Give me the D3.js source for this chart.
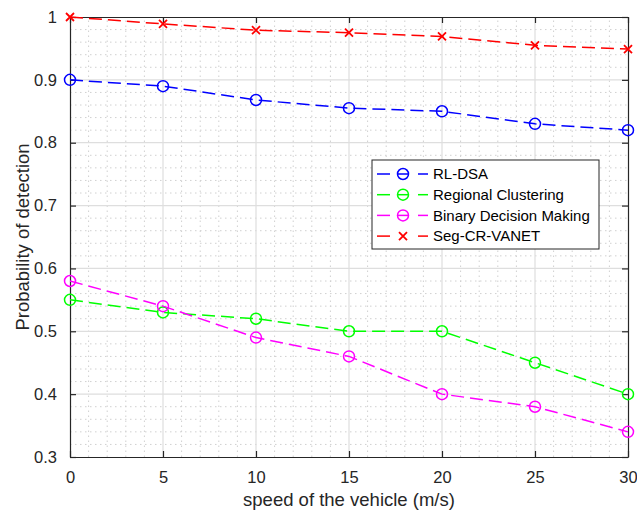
<!DOCTYPE html>
<html>
<head>
<meta charset="utf-8">
<script src="https://cdn.jsdelivr.net/npm/d3@7"></script>
<style>
  body { margin: 0; background: #fff; }
  svg { display: block; font-family: "Liberation Sans", Arial, sans-serif; }
</style>
</head>
<body>
<div id="chart"></div>
<script>
// data
const speeds = [0, 5, 10, 15, 20, 25, 30];
const rlDsa = [0.90, 0.89, 0.868, 0.855, 0.85, 0.83, 0.82];
const regionalClustering = [0.55, 0.53, 0.52, 0.50, 0.50, 0.45, 0.40];
const binaryDecision = [0.58, 0.54, 0.49, 0.46, 0.40, 0.38, 0.34];
const segCrVanet = [1.0, 0.989, 0.979, 0.975, 0.969, 0.955, 0.949];
const xTicks = [0, 5, 10, 15, 20, 25, 30];
const yTicks = [0.3, 0.4, 0.5, 0.6, 0.7, 0.8, 0.9, 1];

const series = [
  { name: "RL-DSA", values: rlDsa, color: "#0000ff", marker: "circle" },
  { name: "Regional Clustering", values: regionalClustering, color: "#00ff00", marker: "circle" },
  { name: "Binary Decision Making", values: binaryDecision, color: "#ff00ff", marker: "circle" },
  { name: "Seg-CR-VANET", values: segCrVanet, color: "#ff0000", marker: "cross" }
];

const width = 637, height = 514;
const margin = { top: 17, right: 9, bottom: 57, left: 70 };
const axisColor = "#262626";

const svg = d3.select("#chart").append("svg")
  .attr("width", width)
  .attr("height", height);

const x = d3.scaleLinear().domain([0, 30]).range([margin.left, width - margin.right]);
const y = d3.scaleLinear().domain([0.3, 1]).range([height - margin.bottom, margin.top]);

// minor grid (dotted)
const grid = svg.append("g");
grid.selectAll(".minor-x")
  .data(d3.range(0, 31, 1).filter(v => v % 5 !== 0))
  .enter().append("line")
  .attr("x1", d => x(d)).attr("x2", d => x(d))
  .attr("y1", y(0.3)).attr("y2", y(1))
  .attr("stroke", "#d0d0d0").attr("stroke-width", 1)
  .attr("stroke-dasharray", "1.5,3.5");
grid.selectAll(".minor-y")
  .data(d3.range(30, 101, 2).filter(v => v % 10 !== 0).map(v => v / 100))
  .enter().append("line")
  .attr("x1", x(0)).attr("x2", x(30))
  .attr("y1", d => y(d)).attr("y2", d => y(d))
  .attr("stroke", "#d0d0d0").attr("stroke-width", 1)
  .attr("stroke-dasharray", "1.5,3.5");

// major grid
grid.selectAll(".major-x")
  .data(xTicks.slice(1, -1))
  .enter().append("line")
  .attr("x1", d => x(d)).attr("x2", d => x(d))
  .attr("y1", y(0.3)).attr("y2", y(1))
  .attr("stroke", "#dedede").attr("stroke-width", 1.2);
grid.selectAll(".major-y")
  .data(yTicks.slice(1, -1))
  .enter().append("line")
  .attr("x1", x(0)).attr("x2", x(30))
  .attr("y1", d => y(d)).attr("y2", d => y(d))
  .attr("stroke", "#dedede").attr("stroke-width", 1.2);

// axes with inward ticks
const xAxis = svg.append("g")
  .attr("transform", `translate(0,${y(0.3)})`)
  .call(d3.axisBottom(x).tickValues(xTicks).tickSizeInner(-6).tickSizeOuter(0).tickPadding(14));
const yAxis = svg.append("g")
  .attr("transform", `translate(${x(0)},0)`)
  .call(d3.axisLeft(y).tickValues(yTicks).tickFormat(d3.format("")).tickSizeInner(-6).tickSizeOuter(0).tickPadding(13));
const xTop = svg.append("g")
  .attr("transform", `translate(0,${y(1)})`)
  .call(d3.axisTop(x).tickValues(xTicks).tickSizeInner(-6).tickSizeOuter(0).tickFormat(""));
const yRight = svg.append("g")
  .attr("transform", `translate(${x(30)},0)`)
  .call(d3.axisRight(y).tickValues(yTicks).tickSizeInner(-6).tickSizeOuter(0).tickFormat(""));

[xAxis, yAxis, xTop, yRight].forEach(g => {
  g.select(".domain").attr("stroke", axisColor).attr("stroke-width", 1.2);
  g.selectAll(".tick line").attr("stroke", axisColor).attr("stroke-width", 1.2);
  g.selectAll(".tick text").attr("fill", axisColor).style("font-size", "16.5px")
    .style("font-family", "Liberation Sans, Arial, sans-serif");
});

// axis labels
svg.append("text")
  .attr("x", x(15)).attr("y", 506)
  .attr("text-anchor", "middle")
  .attr("fill", axisColor)
  .style("font-size", "18.5px")
  .text("speed of the vehicle (m/s)");
svg.append("text")
  .attr("transform", `translate(29,${y(0.65)}) rotate(-90)`)
  .attr("text-anchor", "middle")
  .attr("fill", axisColor)
  .style("font-size", "18.5px")
  .text("Probability of detection");

// lines and markers
const line = d3.line().x((d, i) => x(speeds[i])).y(d => y(d));
const dash = "13,6";

function drawMarker(g, type, color, cx, cy) {
  if (type === "circle") {
    g.append("circle")
      .attr("cx", cx).attr("cy", cy).attr("r", 5.5)
      .attr("fill", "none").attr("stroke", color).attr("stroke-width", 1.5);
  } else {
    const s = 4;
    g.append("path")
      .attr("d", `M${cx - s},${cy - s}L${cx + s},${cy + s}M${cx - s},${cy + s}L${cx + s},${cy - s}`)
      .attr("stroke", color).attr("stroke-width", 1.8).attr("fill", "none");
  }
}

const plot = svg.append("g");
series.forEach(s => {
  plot.append("path")
    .datum(s.values)
    .attr("d", line)
    .attr("fill", "none")
    .attr("stroke", s.color)
    .attr("stroke-width", 1.5)
    .attr("stroke-dasharray", dash);
  const mg = plot.append("g");
  s.values.forEach((v, i) => drawMarker(mg, s.marker, s.color, x(speeds[i]), y(v)));
});

// legend
const legend = svg.append("g").attr("transform", "translate(372,160)");
legend.append("rect")
  .attr("width", 227).attr("height", 89)
  .attr("fill", "#fff")
  .attr("stroke", axisColor).attr("stroke-width", 1);
series.forEach((s, i) => {
  const ly = 14 + i * 20.7;
  const row = legend.append("g");
  row.append("line").attr("x1", 5).attr("x2", 18).attr("y1", ly).attr("y2", ly)
    .attr("stroke", s.color).attr("stroke-width", 1.5);
  row.append("line").attr("x1", 46).attr("x2", 56).attr("y1", ly).attr("y2", ly)
    .attr("stroke", s.color).attr("stroke-width", 1.5);
  if (s.marker === "circle") {
    row.append("line").attr("x1", 25).attr("x2", 37).attr("y1", ly).attr("y2", ly)
      .attr("stroke", s.color).attr("stroke-width", 1.5);
  }
  drawMarker(row, s.marker, s.color, 31, ly);
  row.append("text")
    .attr("x", 61).attr("y", ly).attr("dy", "0.35em")
    .attr("fill", "#000")
    .style("font-size", "15px")
    .text(s.name);
});
</script>
</body>
</html>
